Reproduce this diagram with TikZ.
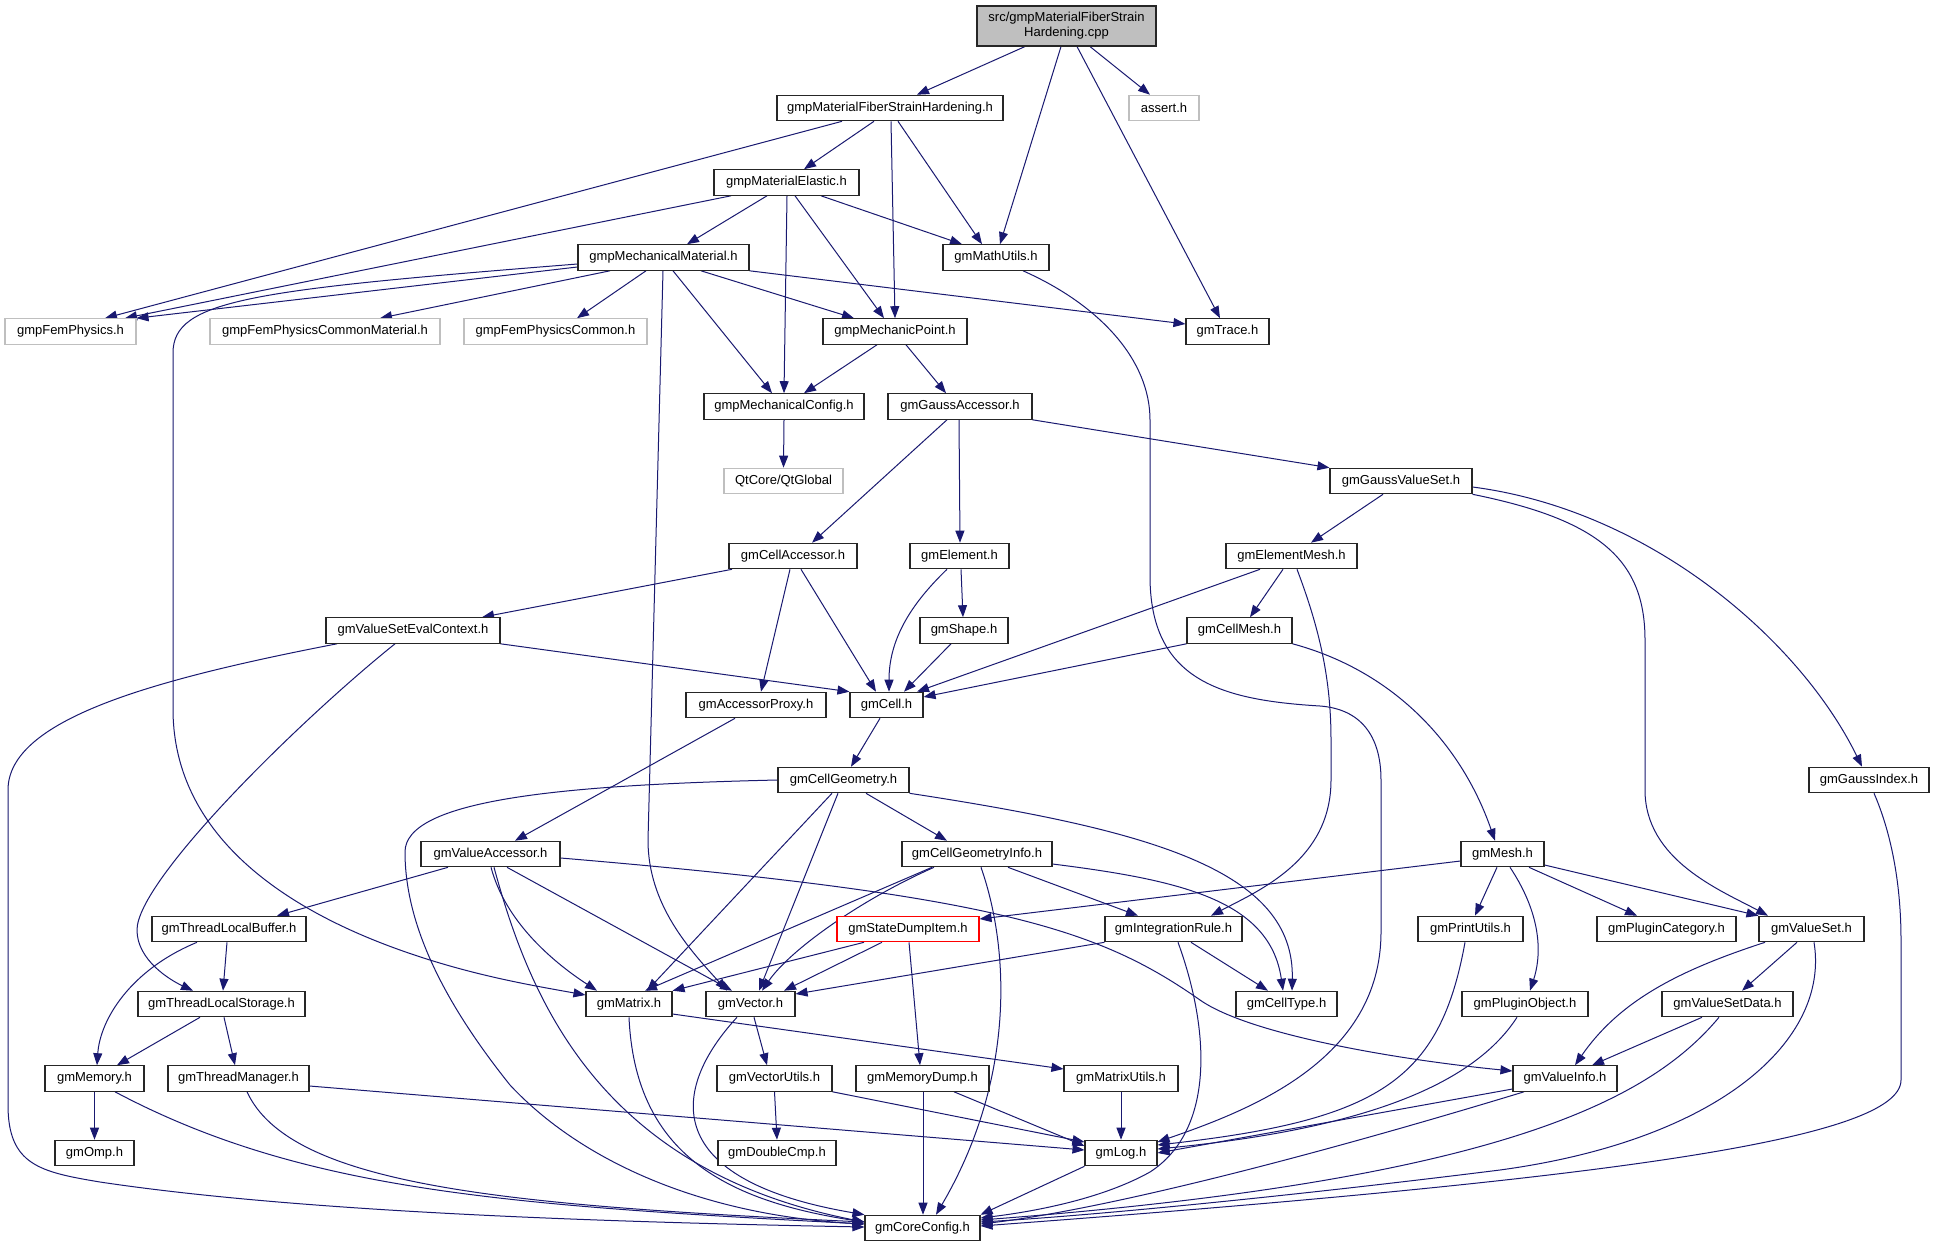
\documentclass[tikz,border=0pt]{standalone}
\usepackage{fontspec}
\setmainfont{Liberation Sans}
\usetikzlibrary{arrows.meta,backgrounds}
\definecolor{edgeblue}{HTML}{191970}
\definecolor{lgray}{HTML}{BFBFBF}
\begin{document}
\begin{tikzpicture}[x=1pt,y=-1pt,
  box/.style={draw=black!85, line width=1.1pt, fill=white, minimum height=25.5pt, inner sep=0pt, font=\fontsize{13}{15}\selectfont, text=black},
  gbox/.style={box, draw=lgray},
  rbox/.style={box, draw=red},
  edg/.style={draw=edgeblue, line width=1pt, -{Triangle[length=12pt,width=9pt]}}]
\useasboundingbox (0,0) rectangle (1935,1247);
% nodes
\node[box, fill=lgray, minimum width=179pt, minimum height=40pt, align=center] (main) at (1066.5,26) {src/gmpMaterialFiberStrain\\Hardening.cpp};
\node[gbox, minimum width=70pt] (assert) at (1164,108) {assert.h};
\node[box, minimum width=226pt] (fsh) at (890,108) {gmpMaterialFiberStrainHardening.h};
\node[box, minimum width=106pt] (math) at (996,257.5) {gmMathUtils.h};
\node[box, minimum width=83pt] (trace) at (1227.5,331.5) {gmTrace.h};
\node[box, minimum width=145pt] (me) at (786.5,182.5) {gmpMaterialElastic.h};
\node[box, minimum width=171pt] (mm) at (663.5,257.5) {gmpMechanicalMaterial.h};
\node[box, minimum width=144pt] (mp) at (895,331.5) {gmpMechanicPoint.h};
\node[gbox, minimum width=183pt] (fpc) at (555.5,331.5) {gmpFemPhysicsCommon.h};
\node[gbox, minimum width=131pt] (fp) at (70.5,331.5) {gmpFemPhysics.h};
\node[gbox, minimum width=230pt] (fpcm) at (325,331.5) {gmpFemPhysicsCommonMaterial.h};
\node[box, minimum width=160pt] (mc) at (784,406.5) {gmpMechanicalConfig.h};
\node[box, minimum width=144pt] (ga) at (960,406.5) {gmGaussAccessor.h};
\node[gbox, minimum width=119pt] (qt) at (783.5,481) {QtCore/QtGlobal};
\node[box, minimum width=142pt] (gvs) at (1401,481) {gmGaussValueSet.h};
\node[box, minimum width=128pt] (ca) at (793,556) {gmCellAccessor.h};
\node[box, minimum width=99pt] (elem) at (959.5,556) {gmElement.h};
\node[box, minimum width=131pt] (em) at (1291.5,556) {gmElementMesh.h};
\node[box, minimum width=174pt] (vsec) at (413,630.5) {gmValueSetEvalContext.h};
\node[box, minimum width=88pt] (shape) at (964,630.5) {gmShape.h};
\node[box, minimum width=105pt] (cmesh) at (1239.5,630.5) {gmCellMesh.h};
\node[box, minimum width=140pt] (ap) at (756,705) {gmAccessorProxy.h};
\node[box, minimum width=73pt] (cell) at (886.5,705) {gmCell.h};
\node[box, minimum width=131pt] (cg) at (843.5,780) {gmCellGeometry.h};
\node[box, minimum width=120pt] (gidx) at (1869,780) {gmGaussIndex.h};
\node[box, minimum width=139pt] (va) at (490.5,854) {gmValueAccessor.h};
\node[box, minimum width=150pt] (cgi) at (977,854) {gmCellGeometryInfo.h};
\node[box, minimum width=83pt] (mesh) at (1502.5,854) {gmMesh.h};
\node[box, minimum width=154pt] (tlb) at (229,929) {gmThreadLocalBuffer.h};
\node[rbox, minimum width=142pt] (sdi) at (908,929) {gmStateDumpItem.h};
\node[box, minimum width=137pt] (ir) at (1173.5,929) {gmIntegrationRule.h};
\node[box, minimum width=105pt] (pu) at (1470.5,929) {gmPrintUtils.h};
\node[box, minimum width=139pt] (pc) at (1666.5,929) {gmPluginCategory.h};
\node[box, minimum width=105pt] (vs) at (1811.5,929) {gmValueSet.h};
\node[box, minimum width=167pt] (tls) at (221.5,1004) {gmThreadLocalStorage.h};
\node[box, minimum width=86pt] (mat) at (629,1004) {gmMatrix.h};
\node[box, minimum width=89pt] (vec) at (750.5,1004) {gmVector.h};
\node[box, minimum width=101pt] (ctype) at (1286.5,1004) {gmCellType.h};
\node[box, minimum width=126pt] (po) at (1525,1004) {gmPluginObject.h};
\node[box, minimum width=131pt] (vsd) at (1727.5,1004) {gmValueSetData.h};
\node[box, minimum width=99pt] (mem) at (94.5,1078.5) {gmMemory.h};
\node[box, minimum width=141pt] (tm) at (238.5,1078.5) {gmThreadManager.h};
\node[box, minimum width=115pt] (vu) at (774.5,1078.5) {gmVectorUtils.h};
\node[box, minimum width=133pt] (md) at (922.5,1078.5) {gmMemoryDump.h};
\node[box, minimum width=114pt] (mu) at (1121,1078.5) {gmMatrixUtils.h};
\node[box, minimum width=104pt] (vi) at (1565,1078.5) {gmValueInfo.h};
\node[box, minimum width=79pt] (omp) at (94.5,1153) {gmOmp.h};
\node[box, minimum width=118pt] (dc) at (777,1153) {gmDoubleCmp.h};
\node[box, minimum width=72pt] (log) at (1121,1153) {gmLog.h};
\node[box, minimum width=115pt] (cc) at (922.5,1228) {gmCoreConfig.h};
% edges
\begin{scope}[on background layer]
\fill[white] (0,0) rectangle (1935,1247);
\draw[edg] (main.south -| 1025,0) -- (fsh.north -| 917,0);
\draw[edg] (main.south -| 1061,0) -- (math.north -| 1000,0);
\draw[edg] (main.south -| 1077,0) -- (trace.north -| 1220,0);
\draw[edg] (main.south -| 1090,0) -- (assert.north -| 1150,0);
\draw[edg] (fsh.south -| 842,0) -- (fp.north -| 105,0);
\draw[edg] (fsh.south -| 874,0) -- (me.north -| 804,0);
\draw[edg] (fsh.south -| 891,0) -- (mp.north -| 895,0);
\draw[edg] (fsh.south -| 898,0) -- (math.north -| 982,0);
\draw[edg] (me.south -| 731,0) -- (fp.north -| 125,0);
\draw[edg] (me.south -| 767,0) -- (mm.north -| 687,0);
\draw[edg] (me.south -| 787,0) -- (mc.north -| 784,0);
\draw[edg] (me.south -| 795,0) -- (mp.north -| 884,0);
\draw[edg] (me.south -| 821,0) -- (math.north -| 962,0);
\draw[edg] (mm.west |- 0,267) -- (fp.north east);
\draw[edg] (mm.south -| 610,0) -- (fpcm.north -| 380,0);
\draw[edg] (mm.south -| 646,0) -- (fpc.north -| 577,0);
\draw[edg] (mm.west |- 0,264) .. controls (250,290) and (173,300) .. (173,353) -- (173,709) .. controls (173,820) and (260,900) .. (400,950) .. controls (470,975) and (530,985) .. (mat.west |- 0,995);
\draw[edg] (mm.south -| 663,0) -- (648,840) .. controls (648,905) and (690,950) .. (vec.north -| 727,0);
\draw[edg] (mm.south -| 673,0) -- (mc.north -| 772,0);
\draw[edg] (mm.south -| 701,0) -- (mp.north -| 854,0);
\draw[edg] (mm.south east) -- (trace.west |- 0,324);
\draw[edg] (mp.south -| 877,0) -- (mc.north -| 804,0);
\draw[edg] (mp.south -| 906,0) -- (ga.north -| 946,0);
\draw[edg] (mc.south) -- (qt.north);
\draw[edg] (math.south -| 1023,0) .. controls (1100,305) and (1150,360) .. (1150,420) -- (1150,576) .. controls (1150,680) and (1220,700) .. (1320,706) .. controls (1360,709) and (1381,735) .. (1381,780) -- (1381,932) .. controls (1381,1060) and (1250,1110) .. (log.east |- 0,1142);
\draw[edg] (ga.south -| 947,0) -- (ca.north -| 812,0);
\draw[edg] (ga.south -| 959,0) -- (elem.north -| 960,0);
\draw[edg] (ga.south east) -- (gvs.north west);
\draw[edg] (gvs.south -| 1383,0) -- (em.north -| 1311,0);
\draw[edg] (gvs.south east) .. controls (1600,520) and (1645,560) .. (1645,640) -- (1645,790) .. controls (1645,860) and (1720,890) .. (vs.north -| 1768,0);
\draw[edg] (gvs.east |- 0,487) .. controls (1650,510) and (1800,640) .. (gidx.north -| 1862,0);
\draw[edg] (ca.south -| 732,0) -- (vsec.north -| 482,0);
\draw[edg] (ca.south -| 790,0) -- (ap.north -| 761,0);
\draw[edg] (ca.south -| 801,0) -- (cell.north -| 876,0);
\draw[edg] (elem.south -| 947,0) .. controls (910,605) and (889,640) .. (cell.north -| 889,0);
\draw[edg] (elem.south -| 961,0) -- (shape.north -| 963,0);
\draw[edg] (shape.south -| 951,0) -- (cell.north -| 904,0);
\draw[edg] (em.south -| 1260,0) -- (cell.north -| 917,0);
\draw[edg] (em.south -| 1283,0) -- (cmesh.north -| 1250,0);
\draw[edg] (em.south -| 1297,0) .. controls (1320,630) and (1331,680) .. (1331,740) -- (1331,780) .. controls (1331,860) and (1260,890) .. (ir.north -| 1211,0);
\draw[edg] (cmesh.south west) -- (cell.east |- 0,697);
\draw[edg] (cmesh.south east) .. controls (1390,670) and (1460,740) .. (mesh.north -| 1495,0);
\draw[edg] (vsec.south east) -- (cell.north west);
\draw[edg] (vsec.south -| 337,0) .. controls (150,680) and (8,720) .. (8,790) -- (8,1105) .. controls (8,1165) and (40,1172) .. (100,1182) .. controls (300,1212) and (600,1222) .. (cc.west |- 0,1227);
\draw[edg] (vsec.south -| 395,0) .. controls (300,720) and (137,880) .. (137,930) .. controls (137,960) and (170,980) .. (tls.north -| 193,0);
\draw[edg] (ap.south -| 735,0) -- (va.north -| 515,0);
\draw[edg] (cell.south -| 880,0) -- (cg.north -| 851,0);
\draw[edg] (cg.west |- 0,780) .. controls (560,785) and (405,800) .. (405,852) .. controls (405,930) and (450,1010) .. (510,1085) .. controls (580,1160) and (700,1215) .. (cc.west |- 0,1224);
\draw[edg] (cg.south -| 832,0) -- (mat.north -| 647,0);
\draw[edg] (cg.south -| 838,0) -- (vec.north -| 759,0);
\draw[edg] (cg.south -| 866,0) -- (cgi.north -| 947,0);
\draw[edg] (cg.south east) .. controls (1150,830) and (1295,870) .. (ctype.north -| 1292,0);
\draw[edg] (va.south -| 448,0) -- (tlb.north -| 277,0);
\draw[edg] (va.south -| 491,0) .. controls (505,920) and (550,960) .. (mat.north -| 597,0);
\draw[edg] (va.south -| 507,0) -- (vec.north -| 732,0);
\draw[edg] (va.south -| 494,0) .. controls (530,1000) and (600,1170) .. (cc.west |- 0,1222);
\draw[edg] (va.east |- 0,858) .. controls (1000,895) and (1100,930) .. (1200,1000) .. controls (1250,1035) and (1400,1060) .. (vi.west |- 0,1071);
\draw[edg] (tlb.south -| 227,0) -- (tls.north -| 223,0);
\draw[edg] (tlb.south -| 197,0) .. controls (130,970) and (100,1020) .. (mem.north -| 97,0);
\draw[edg] (tls.south -| 200,0) -- (mem.north -| 117,0);
\draw[edg] (tls.south -| 224,0) -- (tm.north -| 235,0);
\draw[edg] (mem.south) -- (omp.north);
\draw[edg] (mem.south -| 115,0) .. controls (300,1190) and (500,1205) .. (cc.west |- 0,1224);
\draw[edg] (tm.south -| 247,0) .. controls (290,1185) and (500,1205) .. (cc.west |- 0,1222);
\draw[edg] (tm.east |- 0,1086) -- (log.west |- 0,1150);
\draw[edg] (cgi.south -| 932,0) -- (mat.north -| 645,0);
\draw[edg] (cgi.south -| 934,0) .. controls (860,900) and (790,950) .. (vec.north -| 762,0);
\draw[edg] (cgi.south -| 1008,0) -- (ir.north -| 1138,0);
\draw[edg] (cgi.east |- 0,864) .. controls (1180,880) and (1270,900) .. (ctype.north -| 1283,0);
\draw[edg] (cgi.south -| 981,0) .. controls (1010,950) and (1015,1080) .. (cc.north -| 936,0);
\draw[edg] (sdi.south -| 864,0) -- (mat.north east);
\draw[edg] (sdi.south -| 882,0) -- (vec.north -| 784,0);
\draw[edg] (sdi.south -| 909,0) -- (md.north -| 920,0);
\draw[edg] (ir.south west) -- (vec.east |- 0,994);
\draw[edg] (ir.south -| 1191,0) -- (ctype.north -| 1268,0);
\draw[edg] (ir.south -| 1178,0) .. controls (1210,1030) and (1215,1130) .. (1150,1172) .. controls (1100,1200) and (1030,1212) .. (cc.east |- 0,1218);
\draw[edg] (mat.east |- 0,1014) -- (mu.west |- 0,1069);
\draw[edg] (mat.south -| 629,0) .. controls (635,1150) and (720,1200) .. (cc.west |- 0,1222);
\draw[edg] (vec.south -| 754,0) -- (vu.north -| 767,0);
\draw[edg] (vec.south -| 737,0) .. controls (670,1090) and (660,1180) .. (cc.north west);
\draw[edg] (vu.south) -- (dc.north);
\draw[edg] (vu.south east) -- (log.west |- 0,1142);
\draw[edg] (md.south -| 954,0) -- (log.west |- 0,1146);
\draw[edg] (md.south -| 923,0) -- (cc.north -| 923,0);
\draw[edg] (mu.south) -- (log.north);
\draw[edg] (log.south west) -- (cc.north east);
\draw[edg] (mesh.west |- 0,861) -- (sdi.east |- 0,919);
\draw[edg] (mesh.south -| 1497,0) -- (pu.north -| 1475,0);
\draw[edg] (mesh.south -| 1510,0) .. controls (1545,920) and (1540,960) .. (po.north -| 1530,0);
\draw[edg] (mesh.south -| 1529,0) -- (pc.north -| 1637,0);
\draw[edg] (mesh.east |- 0,865) -- (vs.north west);
\draw[edg] (pu.south -| 1465,0) .. controls (1440,1080) and (1380,1120) .. (log.east |- 0,1145);
\draw[edg] (po.south -| 1517,0) .. controls (1470,1090) and (1350,1130) .. (log.east |- 0,1149);
\draw[edg] (vs.south -| 1797,0) -- (vsd.north -| 1742,0);
\draw[edg] (vs.south -| 1765,0) .. controls (1680,970) and (1620,1000) .. (vi.north -| 1575,0);
\draw[edg] (vs.south -| 1814,0) .. controls (1830,1040) and (1720,1140) .. (1500,1170) .. controls (1300,1195) and (1100,1215) .. (cc.east |- 0,1222);
\draw[edg] (vsd.south -| 1702,0) -- (vi.north -| 1592,0);
\draw[edg] (vsd.south -| 1719,0) .. controls (1650,1100) and (1500,1180) .. (cc.east |- 0,1220);
\draw[edg] (vi.west |- 0,1089) -- (log.east |- 0,1153);
\draw[edg] (vi.south -| 1524,0) .. controls (1300,1160) and (1100,1210) .. (cc.east |- 0,1224);
\draw[edg] (gidx.south -| 1874,0) .. controls (1890,830) and (1901,880) .. (1901,940) -- (1901,1080) .. controls (1901,1140) and (1600,1180) .. (cc.east |- 0,1226);
\end{scope}
\end{tikzpicture}
\end{document}
